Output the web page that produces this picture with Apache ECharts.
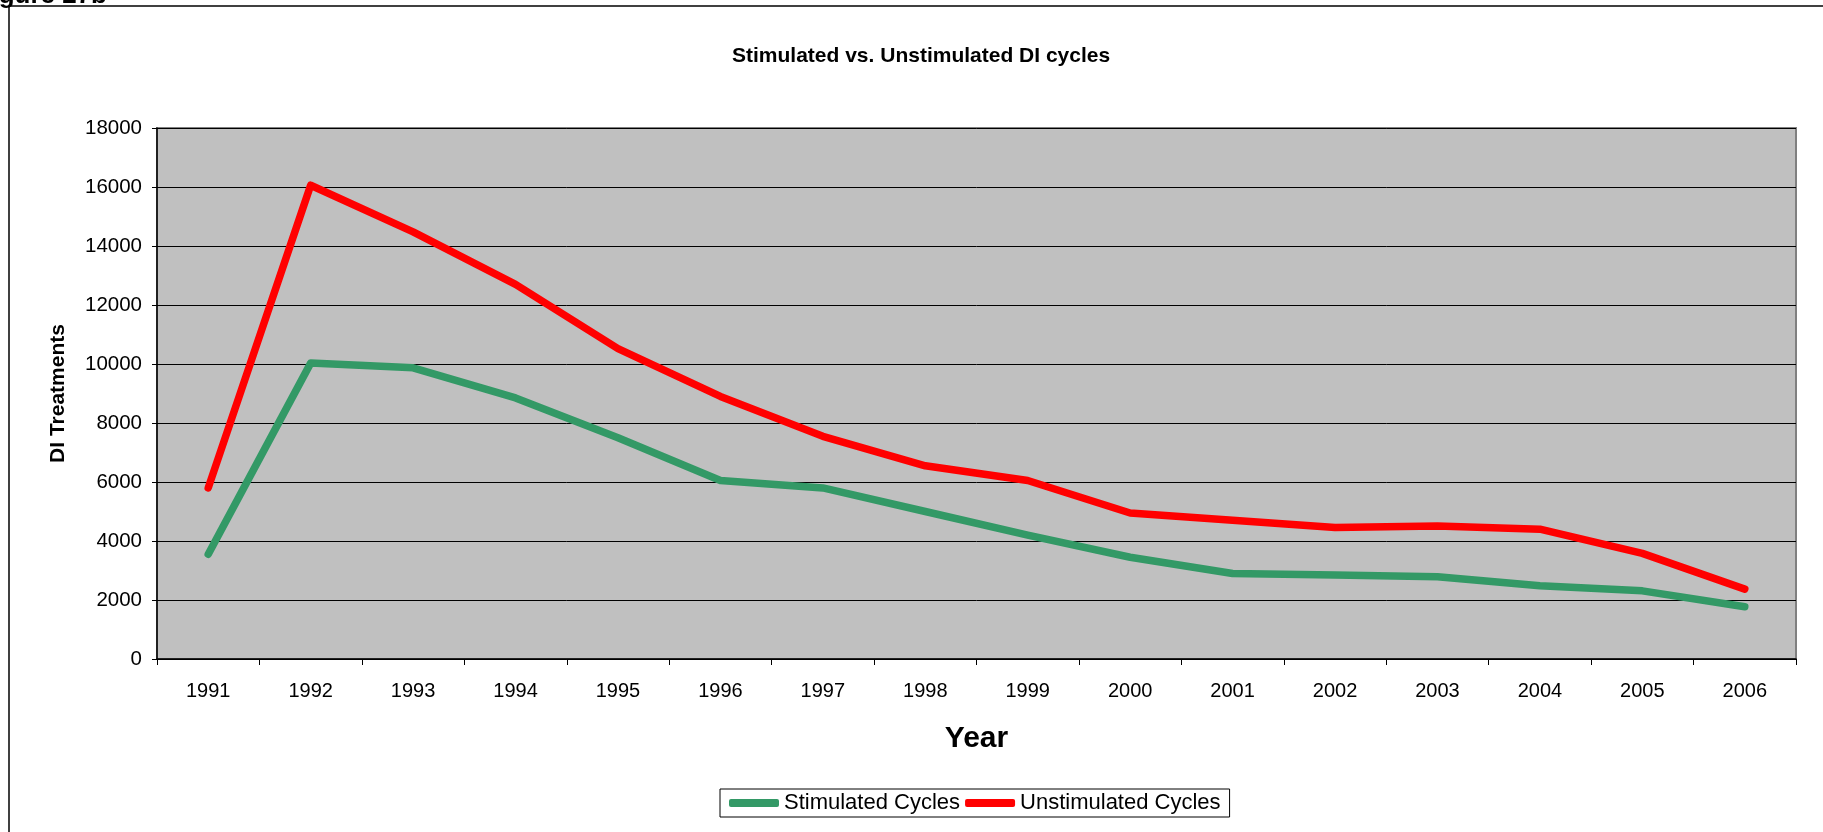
<!DOCTYPE html>
<html>
<head>
<meta charset="utf-8">
<script src="https://cdn.jsdelivr.net/npm/echarts@6/dist/echarts.min.js"></script>
<style>
html,body{margin:0;padding:0;background:#fff;}
#chart{width:1823px;height:832px;}
</style>
</head>
<body>
<div id="chart"></div>
<script>
var years = ['1991','1992','1993','1994','1995','1996','1997','1998','1999','2000','2001','2002','2003','2004','2005','2006'];
var stimulated = [3550, 10030, 9870, 8850, 7500, 6050, 5800, 5000, 4200, 3450, 2900, 2850, 2790, 2480, 2310, 1770];
var unstimulated = [5800, 16060, 14480, 12700, 10520, 8900, 7550, 6550, 6050, 4950, 4700, 4460, 4510, 4400, 3580, 2370];
var yTicks = {min: 0, max: 18000, interval: 2000};

var chart = echarts.init(document.getElementById('chart'), null, {renderer: 'canvas'});
var FONT = 'Liberation Sans, Arial, sans-serif';
chart.setOption({
  animation: false,
  backgroundColor: '#ffffff',
  title: {
    text: 'Stimulated vs. Unstimulated DI cycles',
    left: 727, top: 41,
    textStyle: {fontFamily: FONT, fontSize: 21, fontWeight: 'bold', color: '#000'}
  },
  legend: {
    left: 720, top: 789,
    padding: [3, 9, 3, 9],
    itemGap: 5,
    itemWidth: 50, itemHeight: 8,
    icon: 'roundRect',
    borderColor: '#000', borderWidth: 1,
    textStyle: {fontFamily: FONT, fontSize: 22, color: '#000'},
    data: ['Stimulated Cycles', 'Unstimulated Cycles']
  },
  grid: {
    left: 157, right: 27, top: 128, bottom: 173,
    show: true, backgroundColor: '#c0c0c0', borderColor: '#808080', borderWidth: 2
  },
  xAxis: {
    type: 'category',
    data: years,
    boundaryGap: true,
    name: 'Year', nameLocation: 'middle', nameGap: 65,
    nameTextStyle: {fontFamily: FONT, fontSize: 30, fontWeight: 'bold', color: '#000'},
    axisLine: {lineStyle: {color: '#000', width: 1.5}},
    axisTick: {show: true, length: 6, alignWithLabel: false, lineStyle: {color: '#000'}},
    axisLabel: {fontFamily: FONT, fontSize: 20, color: '#000', margin: 22},
    splitLine: {show: false}
  },
  yAxis: {
    type: 'value',
    min: yTicks.min, max: yTicks.max, interval: yTicks.interval,
    name: 'DI Treatments', nameLocation: 'middle', nameGap: 88, nameRotate: 90,
    nameTextStyle: {fontFamily: FONT, fontSize: 21, fontWeight: 'bold', color: '#000'},
    axisLine: {show: true, lineStyle: {color: '#000', width: 1.5}},
    axisTick: {show: true, length: 5, lineStyle: {color: '#000'}},
    axisLabel: {fontFamily: FONT, fontSize: 20.5, color: '#000', margin: 15,
      formatter: function (v) { return String(v); }},
    splitLine: {show: true, lineStyle: {color: '#000', width: 1}}
  },
  series: [
    {
      name: 'Stimulated Cycles', type: 'line', data: stimulated,
      symbol: 'none', smooth: false,
      itemStyle: {color: '#339966'},
      lineStyle: {color: '#339966', width: 7.5, cap: 'round', join: 'round'}
    },
    {
      name: 'Unstimulated Cycles', type: 'line', data: unstimulated,
      symbol: 'none', smooth: false,
      itemStyle: {color: '#ff0000'},
      lineStyle: {color: '#ff0000', width: 7.5, cap: 'round', join: 'round'}
    }
  ],
  graphic: [
    {type: 'line', z: 100, shape: {x1: 9, y1: 6, x2: 1823, y2: 6}, style: {stroke: '#000', lineWidth: 1.5}},
    {type: 'line', z: 100, shape: {x1: 9, y1: 6, x2: 9, y2: 832}, style: {stroke: '#000', lineWidth: 1.5}},
    {type: 'text', z: 100, x: 107, y: 9, style: {text: 'Figure 27b', fontFamily: FONT, fontSize: 26, fontWeight: 'bold', fill: '#000', align: 'right', verticalAlign: 'bottom'}}
  ]
});
</script>
</body>
</html>
